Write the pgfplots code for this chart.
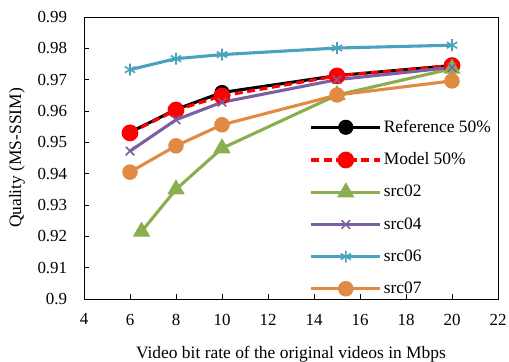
\documentclass[border=0pt]{standalone}
\usepackage{pgfplots}
\pgfplotsset{compat=1.18}
\usepackage{fontspec}
\setmainfont{Liberation Serif}

\definecolor{cgreen}{HTML}{8AAD4D}
\definecolor{cpurple}{HTML}{7B5FA0}
\definecolor{cteal}{HTML}{4BA2BE}
\definecolor{corange}{HTML}{E08A42}

\begin{document}
\fontsize{17}{20}\selectfont
\begin{tikzpicture}
\useasboundingbox (-84bp,-63bp) rectangle (425bp,299bp);
\begin{axis}[
  at={(0,0)}, anchor=south west,
  scale only axis,
  width=414bp, height=282bp,
  xmin=4, xmax=22, ymin=0.9, ymax=0.99,
  xtick={4,6,...,22},
  ytick={0.9,0.91,...,0.991},
  yticklabels={0.9,0.91,0.92,0.93,0.94,0.95,0.96,0.97,0.98,0.99},
  tick align=inside,
  xtick pos=bottom, ytick pos=left,
  major tick length=5bp,
  tick style={black, line width=0.8pt},
  axis line style={line width=1pt},
  /pgf/number format/assume math mode=true,
  ticklabel style={font=\fontsize{17}{20}\selectfont},
  label style={font=\fontsize{17.5}{20}\selectfont},
  xticklabel style={yshift=-9bp},
  yticklabel style={xshift=-11bp},
  xlabel={Video bit rate of the original videos in Mbps},
  ylabel={Quality (MS-SSIM)},
  xlabel style={at={(axis description cs:0.5,0)}, anchor=center, yshift=-55bp},
  ylabel style={at={(axis description cs:0,0.5)}, anchor=center, yshift=67bp},
  legend style={draw=none, fill=none, at={(rel axis cs:1,0)}, xshift=-4bp,
    anchor=south east,
    font=\fontsize{17.5}{20}\selectfont, row sep=14bp, inner sep=1bp},
  legend cell align=left,
  legend image code/.code={
    \draw[#1] (0bp,0bp) -- (69bp,0bp);
    \draw[#1, solid] plot coordinates {(34.5bp,0bp)};
  },
  every axis plot/.append style={line width=3.1pt},
]
\addplot[black, mark=*, mark size=6bp] coordinates {
  (6,0.9532) (8,0.9605) (10,0.9659) (15,0.9713) (20,0.9745)};
\addlegendentry{Reference 50\%}
\addplot[red, dashed, dash pattern=on 8bp off 4.5bp, mark=*, mark size=6.8bp, mark options={solid}] coordinates {
  (6,0.9530) (8,0.9603) (10,0.9648) (15,0.9712) (20,0.9745)};
\addlegendentry{Model 50\%}
\addplot[cgreen, mark=triangle*, mark size=7bp] coordinates {
  (6.5,0.9215) (8,0.9350) (10,0.9481) (15,0.9651) (20,0.9735)};
\addlegendentry{src02}
\addplot[cpurple, mark=x, mark size=6bp, mark options={line width=1.6pt}] coordinates {
  (6,0.9472) (8,0.9572) (10,0.9628) (15,0.9700) (20,0.9739)};
\addlegendentry{src04}
\addplot[cteal, mark=asterisk, mark size=6bp, mark options={line width=1.6pt}] coordinates {
  (6,0.9732) (8,0.9767) (10,0.9780) (15,0.9801) (20,0.9810)};
\addlegendentry{src06}
\addplot[corange, mark=*, mark size=6.2bp] coordinates {
  (6,0.9405) (8,0.9489) (10,0.9556) (15,0.9651) (20,0.9696)};
\addlegendentry{src07}
\end{axis}
\end{tikzpicture}
\end{document}
